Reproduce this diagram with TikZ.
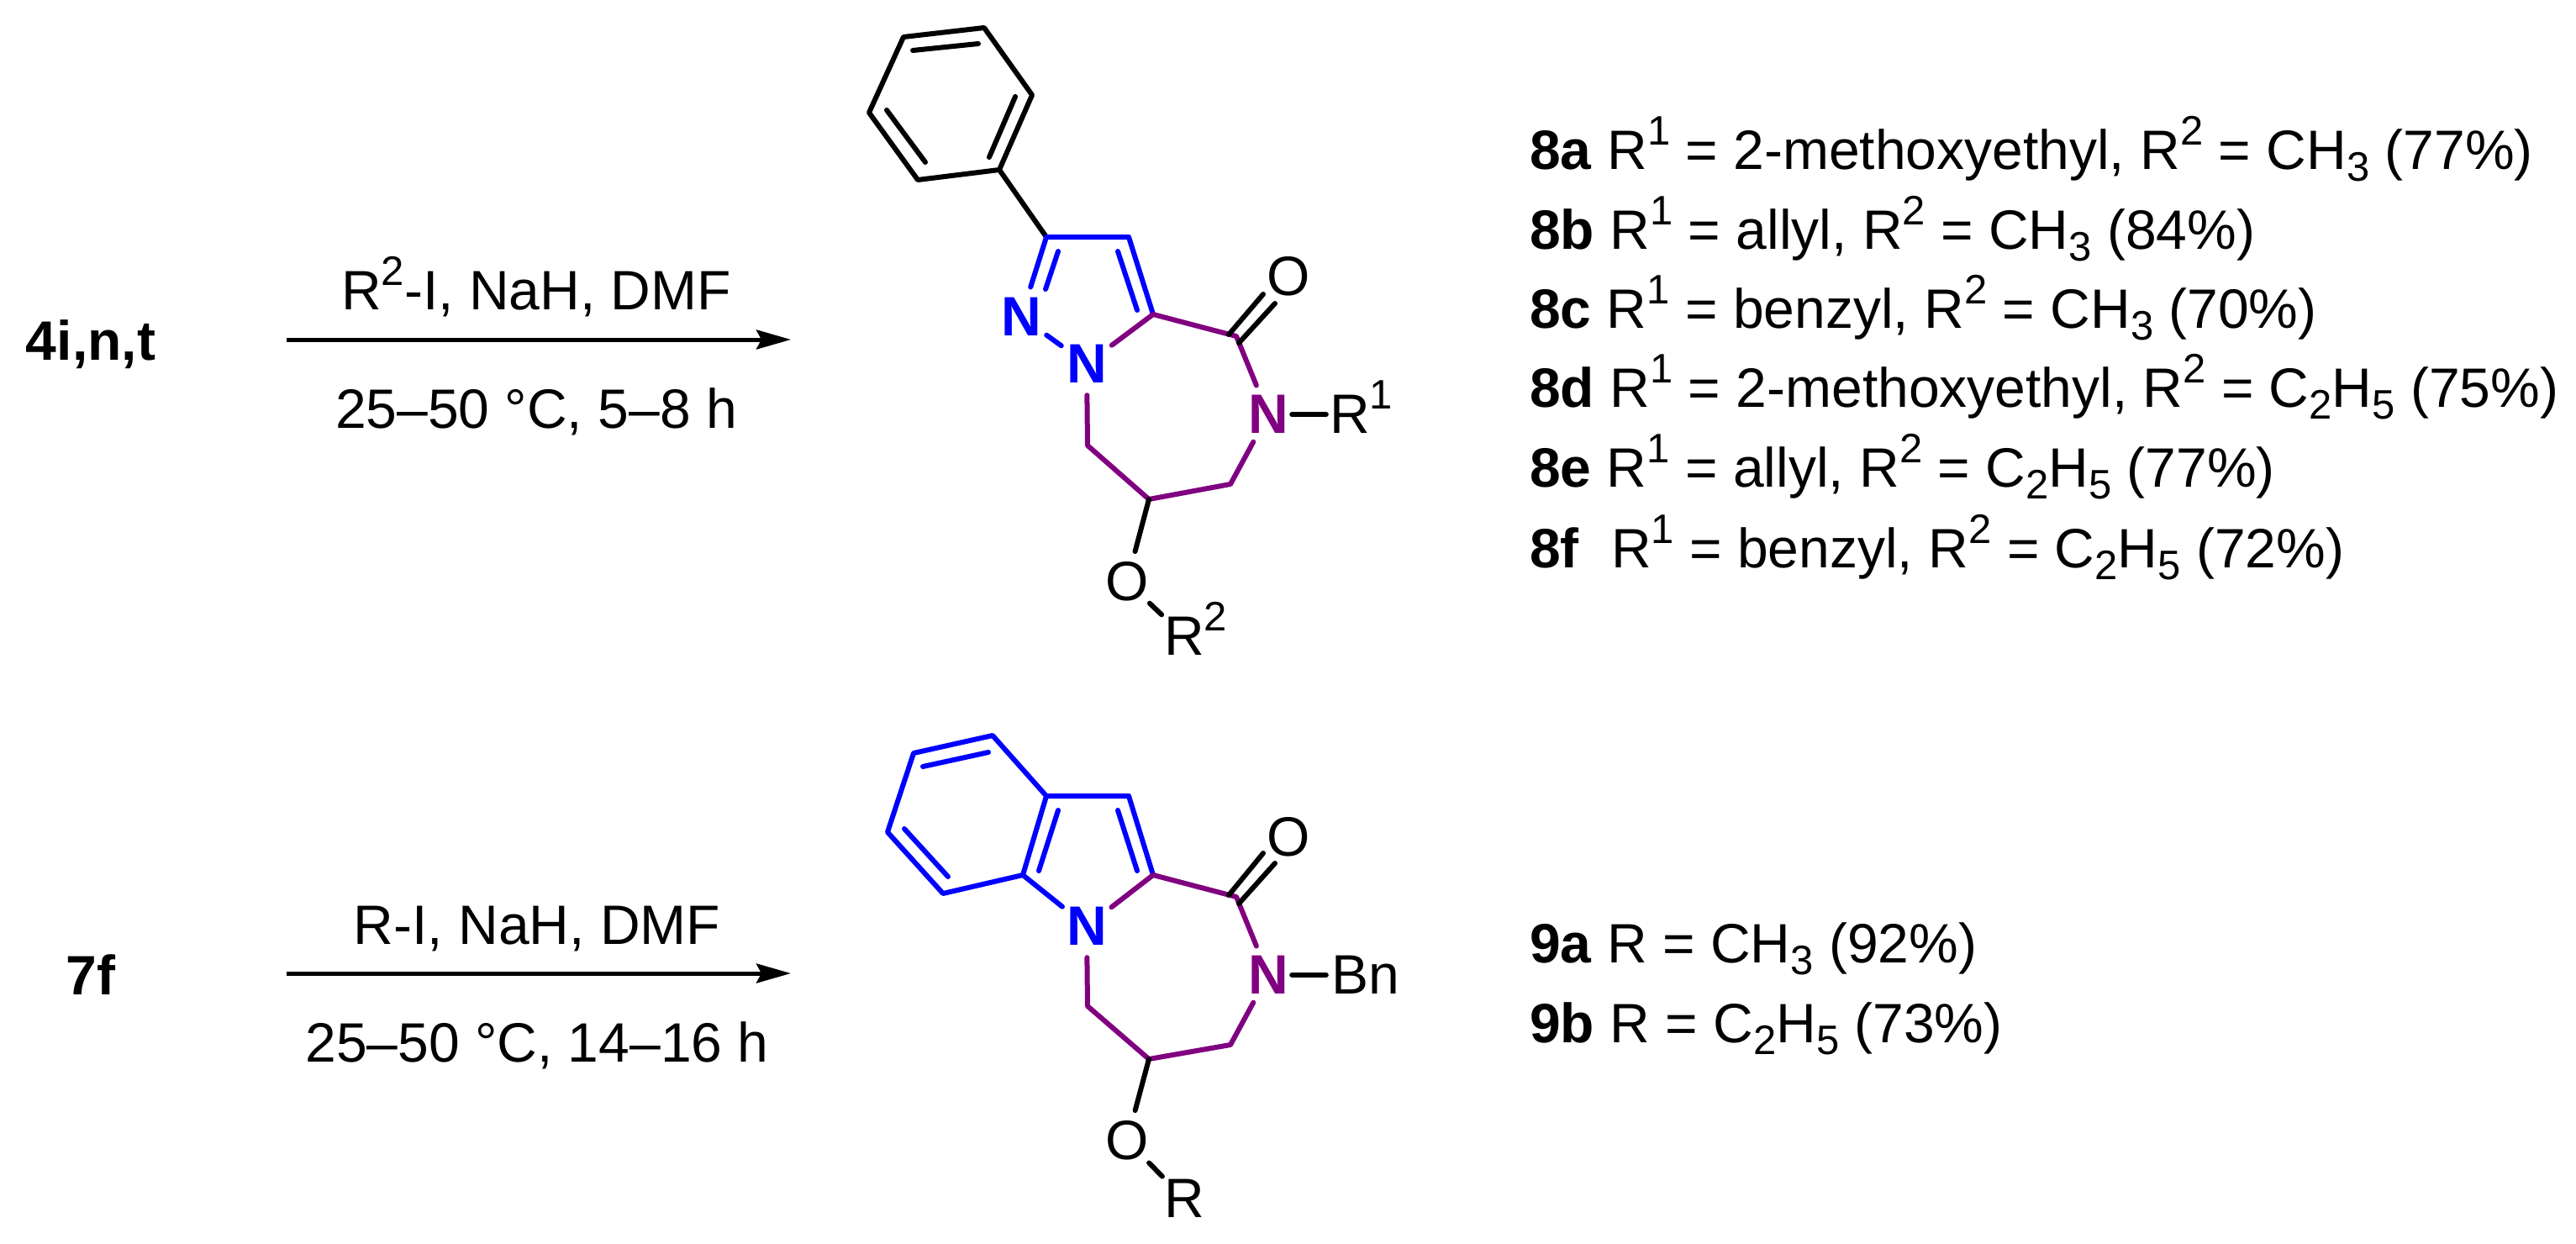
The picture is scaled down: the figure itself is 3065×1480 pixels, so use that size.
\documentclass[tikz,border=0pt]{standalone}
\usepackage{fontspec}
\setmainfont{Liberation Sans}
\usetikzlibrary{arrows.meta}
\definecolor{ringblue}{HTML}{0000FF}
\definecolor{ringpurple}{HTML}{800080}
\newcommand{\supr}[1]{\smash{\raisebox{29pt}{\fontsize{49}{49}\selectfont #1}}}
\newcommand{\subr}[1]{\smash{\raisebox{-14pt}{\fontsize{49}{49}\selectfont #1}}}
\tikzset{
  atomlabel/.style={circle,inner sep=0pt,minimum size=74pt,font=\fontsize{66}{66}\selectfont},
  hetero/.style={atomlabel,font=\bfseries\fontsize{66}{66}\selectfont},
  bond/.style={line width=6pt,line cap=round,line join=round},
  blk/.style={bond,black},
  blu/.style={bond,ringblue},
  pur/.style={bond,ringpurple},
  txt/.style={inner sep=0pt,font=\fontsize{66}{66}\selectfont,anchor=base},
  listtxt/.style={txt,anchor=base west},
  rxn/.style={line width=5pt,-{Stealth[length=41pt,width=23pt,inset=6pt]}},
}
\begin{document}
\begin{tikzpicture}[x=1pt,y=-1pt]
\useasboundingbox (0,0) rectangle (3065,1480);
% ---- arrows and reagents
\coordinate (a1s) at (341,404); \coordinate (a1e) at (941,404);
\coordinate (a2s) at (341,1158); \coordinate (a2e) at (941,1158);
\draw[rxn] (a1s) -- (a1e);
\draw[rxn] (a2s) -- (a2e);
\node[txt,font=\bfseries\fontsize{66}{66}\selectfont] (sm1) at (108,428) {4i,n,t};
\node[txt,font=\bfseries\fontsize{66}{66}\selectfont] (sm2) at (108,1183) {7f};
\node[txt] (r1) at (638,368) {R\supr{2}-I, NaH, DMF};
\node[txt] (c1) at (638,509) {25–50 °C, 5–8 h};
\node[txt] (r2) at (639,1123) {R-I, NaH, DMF};
\node[txt] (c2) at (639,1263) {25–50 °C, 14–16 h};
% ---- top structure
\coordinate (p1) at (1171,33); \coordinate (p2) at (1075,44); \coordinate (p3) at (1034,134);
\coordinate (p4) at (1092,214); \coordinate (p5) at (1189,202); \coordinate (p6) at (1228,113);
\coordinate (p1i) at (1164,52); \coordinate (p2i) at (1086,60);
\coordinate (p3i) at (1055,131); \coordinate (p4i) at (1101,193);
\coordinate (p5i) at (1177,187); \coordinate (p6i) at (1208,115);
\coordinate (t3) at (1245,282); \coordinate (t4) at (1343,282); \coordinate (t3a) at (1372,374);
\coordinate (tco) at (1471,400); \coordinate (tch2a) at (1464,576); \coordinate (tch) at (1367,594);
\coordinate (tch2b) at (1294,530);
\coordinate (t3i) at (1259,299); \coordinate (t2i) at (1244,344);
\coordinate (t4i) at (1330,299); \coordinate (t3ai) at (1353,369);
\coordinate (tco1) at (1462,398); \coordinate (tco1e) at (1503,350);
\coordinate (tco2) at (1474,408); \coordinate (tco2e) at (1517,361);
\node[hetero,text=ringblue] (tn2) at (1215,377) {N};
\node[hetero,text=ringblue] (tn1) at (1293,433) {N};
\node[hetero,text=ringpurple] (tn5) at (1509,493) {N};
\node[atomlabel] (to) at (1533,329) {O};
\node[atomlabel] (tr1) at (1606,493) {R\rlap{\supr{1}}};
\node[atomlabel] (tox) at (1341,692) {O};
\node[atomlabel] (tr2) at (1409,757) {R\rlap{\supr{2}}};
\draw[blk] (p1) -- (p2) -- (p3) -- (p4) -- (p5) -- (p6) -- cycle;
\draw[blk] (p1i) -- (p2i);
\draw[blk] (p3i) -- (p4i);
\draw[blk] (p5i) -- (p6i);
\draw[blk] (p5) -- (t3);
\draw[blu] (t3) -- (t4) -- (t3a);
\draw[blu] (t4i) -- (t3ai);
\draw[blu] (t3) -- (tn2);
\draw[blu] (t3i) -- (t2i);
\draw[blu] (tn2) -- (tn1);
\draw[pur] (tn1) -- (t3a) -- (tco) -- (tn5);
\draw[pur] (tn5) -- (tch2a) -- (tch) -- (tch2b) -- (tn1);
\draw[blk] (tco1) -- (tco1e);
\draw[blk] (tco2) -- (tco2e);
\draw[blk,shorten <=-9pt,shorten >=-9pt] (tn5) -- (tr1);
\draw[blk] (tch) -- (tox);
\draw[blk] (tox) -- (tr2);
% ---- bottom structure
\coordinate (b1) at (1181,875); \coordinate (b2) at (1087,896); \coordinate (b3) at (1056,990);
\coordinate (b4) at (1122,1063); \coordinate (b5) at (1217,1041); \coordinate (b6) at (1245,947);
\coordinate (b7) at (1343,947); \coordinate (b8) at (1372,1041);
\coordinate (bco) at (1471,1067); \coordinate (bch2a) at (1464,1243); \coordinate (bch) at (1367,1260);
\coordinate (bch2b) at (1294,1197);
\coordinate (b1i) at (1176,895); \coordinate (b2i) at (1098,912);
\coordinate (b3i) at (1076,986); \coordinate (b4i) at (1128,1043);
\coordinate (b5i) at (1236,1036); \coordinate (b6i) at (1259,964);
\coordinate (b7i) at (1330,964); \coordinate (b8i) at (1353,1036);
\coordinate (bco1) at (1462,1065); \coordinate (bco1e) at (1503,1015);
\coordinate (bco2) at (1474,1075); \coordinate (bco2e) at (1517,1027);
\node[hetero,text=ringblue] (bn1) at (1293,1102) {N};
\node[hetero,text=ringpurple] (bn5) at (1509,1160) {N};
\node[atomlabel] (bo) at (1533,996) {O};
\node[atomlabel] (bbn) at (1606,1160) {B\rlap{n}};
\node[atomlabel] (box) at (1341,1357) {O};
\node[atomlabel] (br) at (1409,1426) {R};
\draw[blu] (b6) -- (b1) -- (b2) -- (b3) -- (b4) -- (b5) -- cycle;
\draw[blu] (b1i) -- (b2i);
\draw[blu] (b3i) -- (b4i);
\draw[blu] (b5i) -- (b6i);
\draw[blu] (b6) -- (b7) -- (b8);
\draw[blu] (b7i) -- (b8i);
\draw[blu] (b5) -- (bn1);
\draw[pur] (bn1) -- (b8) -- (bco) -- (bn5);
\draw[pur] (bn5) -- (bch2a) -- (bch) -- (bch2b) -- (bn1);
\draw[blk] (bco1) -- (bco1e);
\draw[blk] (bco2) -- (bco2e);
\draw[blk,shorten <=-9pt,shorten >=-9pt] (bn5) -- (bbn);
\draw[blk] (bch) -- (box);
\draw[blk] (box) -- (br);
% ---- compound list
\node[listtxt] (l1) at (1820,201) {\textbf{8a} R\supr{1} = 2-methoxyethyl, R\supr{2} = CH\subr{3} (77\%)};
\node[listtxt] (l2) at (1820,296) {\textbf{8b} R\supr{1} = allyl, R\supr{2} = CH\subr{3} (84\%)};
\node[listtxt] (l3) at (1820,390) {\textbf{8c} R\supr{1} = benzyl, R\supr{2} = CH\subr{3} (70\%)};
\node[listtxt] (l4) at (1820,484) {\textbf{8d} R\supr{1} = 2-methoxyethyl, R\supr{2} = C\subr{2}H\subr{5} (75\%)};
\node[listtxt] (l5) at (1820,579) {\textbf{8e} R\supr{1} = allyl, R\supr{2} = C\subr{2}H\subr{5} (77\%)};
\node[listtxt] (l6) at (1820,675) {\textbf{8f}\hspace{0.3em} R\supr{1} = benzyl, R\supr{2} = C\subr{2}H\subr{5} (72\%)};
\node[listtxt] (l7) at (1820,1145) {\textbf{9a} R = CH\subr{3} (92\%)};
\node[listtxt] (l8) at (1820,1240) {\textbf{9b} R = C\subr{2}H\subr{5} (73\%)};
\end{tikzpicture}
\end{document}
